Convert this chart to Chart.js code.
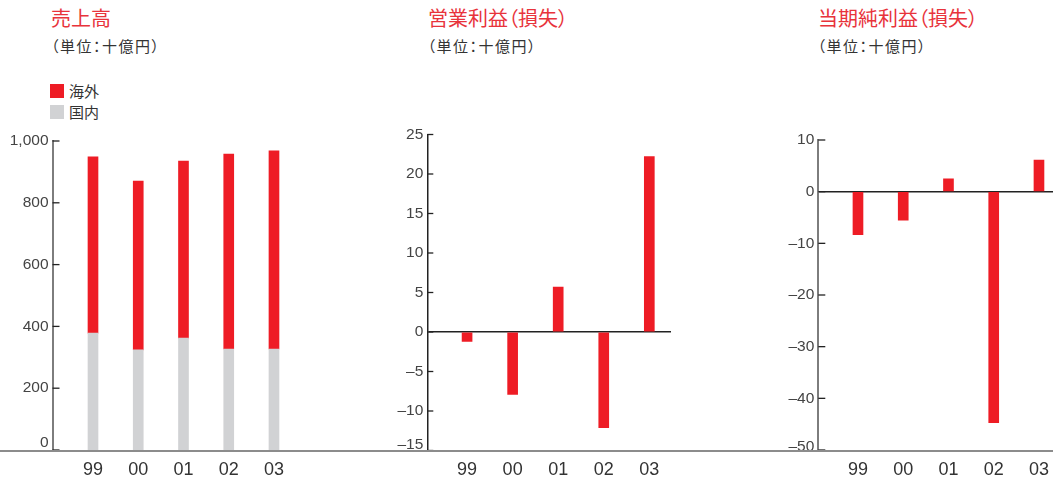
<!DOCTYPE html>
<html><head><meta charset="utf-8">
<script src="https://cdn.jsdelivr.net/npm/chart.js@4"></script>
<style>
html,body{margin:0;padding:0;background:#fff;overflow:hidden;width:1053px;height:477px;}
.t{position:absolute;font-family:"Noto Sans CJK JP";color:#e8333b;font-size:20px;line-height:1;font-feature-settings:"palt";white-space:nowrap;}
.s{position:absolute;font-family:"Noto Sans CJK JP";color:#333;font-size:15px;line-height:1;letter-spacing:1.5px;font-feature-settings:"palt";white-space:nowrap;}
canvas{position:absolute;}
#legend{position:absolute;left:50px;top:84px;font-family:"Noto Sans CJK JP";font-size:15px;color:#333;}
#legend div{height:14px;line-height:14px;margin-bottom:7px;white-space:nowrap;}
#legend i{display:inline-block;width:14px;height:14px;vertical-align:top;margin-right:5px;}
.base{position:absolute;left:0;top:450px;width:1053px;height:2px;background:#8c8c8c;}
</style></head><body>
<div class="t" style="left:51px;top:8px;">売上高</div>
<div class="s" style="left:51px;top:38px;">（単位：十億円）</div>
<div id="legend"></div>
<div class="t" style="left:428px;top:8px;">営業利益（損失）</div>
<div class="s" style="left:427.5px;top:38px;">（単位：十億円）</div>
<div class="t" style="left:818px;top:8px;">当期純利益（損失）</div>
<div class="s" style="left:817.5px;top:38px;">（単位：十億円）</div>
<canvas id="c1" width="350" height="367" style="left:0;top:110px;"></canvas>
<canvas id="c2" width="300" height="367" style="left:380px;top:110px;"></canvas>
<canvas id="c3" width="283" height="367" style="left:770px;top:110px;"></canvas>
<div class="base"></div>
<script>
const categories = ['99','00','01','02','03'];
const salesDomestic = [378, 324, 362, 327, 327];
const salesOverseas = [571, 546, 573, 631, 641];
const operatingIncome = [-1.2, -7.9, 5.7, -12.1, 22.2];
const netIncome = [-8.3, -5.5, 2.5, -44.7, 6.1];
const salesTicks = [0, 200, 400, 600, 800, 1000];
const operatingTicks = [-15, -10, -5, 0, 5, 10, 15, 20, 25];
const netTicks = [-50, -40, -30, -20, -10, 0, 10];
const legendNames = ['海外', '国内'];

const RED = '#ee1c25', GRAY = '#d1d2d4';

const lg = document.getElementById('legend');
[[legendNames[0], RED], [legendNames[1], GRAY]].forEach(([n, c]) => {
  const d = document.createElement('div');
  d.innerHTML = '<i style="background:' + c + '"></i>' + n;
  lg.appendChild(d);
});

const innerTicks = {
  id: 'innerTicks',
  beforeDraw(chart, args, opts) {
    // lift the lowest y label above the baseline, as in the original
    const y = chart.scales.y;
    const items = y.getLabelItems();
    if (items.length && !items[0]._lifted) {
      items[0].options.translation[1] -= opts.lift;
      items[0]._lifted = true;
    }
  },
  afterDraw(chart, args, opts) {
    const y = chart.scales.y, ctx = chart.ctx, left = chart.chartArea.left;
    ctx.save();
    ctx.strokeStyle = opts.color; ctx.lineWidth = opts.width;
    y.ticks.forEach(t => {
      const py = y.getPixelForValue(t.value);
      ctx.beginPath(); ctx.moveTo(left, py); ctx.lineTo(left + opts.length, py); ctx.stroke();
    });
    ctx.restore();
  }
};

const toData = arr => arr.map((v, i) => ({x: i, y: v}));
const fmt = v => v.toLocaleString('en-US').replace('-', '–');

function makeChart(id, datasets, yTicks, L) {
  return new Chart(document.getElementById(id), {
    type: 'bar',
    data: {datasets},
    plugins: [innerTicks],
    options: {
      responsive: false, animation: false, devicePixelRatio: 1,
      layout: {padding: {top: L.padTop, right: L.padRight, left: 0, bottom: 0}},
      plugins: {legend: {display: false}, tooltip: {enabled: false},
        innerTicks: {color: '#222', width: 1.3, length: L.tickLen, lift: L.lift}},
      datasets: {bar: {barThickness: 10}},
      scales: {
        x: {
          type: 'linear', min: L.xMin, max: L.xMax, stacked: true, offset: false,
          grid: {display: false, offset: false}, border: {display: false},
          afterBuildTicks: s => { s.ticks = categories.map((c, i) => ({value: i})); },
          afterFit: s => { s.height = L.xHeight; },
          ticks: {callback: v => categories[v], color: '#333', font: {family: 'Liberation Sans', size: 18},
            padding: 1, maxRotation: 0, autoSkip: false}
        },
        y: {
          min: yTicks[0], max: yTicks[yTicks.length - 1], stacked: true,
          afterBuildTicks: s => { s.ticks = yTicks.map(v => ({value: v})); },
          afterFit: s => { s.width = L.yWidth; },
          grid: {display: L.zeroLine, drawTicks: false, lineWidth: 1.5,
            color: c => (c.tick && c.tick.value === 0) ? '#222' : 'rgba(0,0,0,0)'},
          border: {display: true, color: L.axisColor, width: L.axisWidth},
          ticks: {callback: v => fmt(v), color: '#444', font: {family: 'Liberation Sans', size: 15.5}, padding: 4}
        }
      }
    }
  });
}

makeChart('c1', [
  {label: legendNames[1], data: toData(salesDomestic), backgroundColor: GRAY},
  {label: legendNames[0], data: toData(salesOverseas), backgroundColor: RED}
], salesTicks, {padTop: 31, padRight: 0, yWidth: 52.5, xHeight: 27, xMin: -0.895, xMax: 5.68,
  axisColor: '#7d7d7d', axisWidth: 2, zeroLine: false, tickLen: 7, lift: 7});

makeChart('c2', [
  {label: '営業利益', data: toData(operatingIncome), backgroundColor: RED}
], operatingTicks, {padTop: 24.5, padRight: 9, yWidth: 47.3, xHeight: 26.5, xMin: -0.873, xMax: 4.476,
  axisColor: '#222', axisWidth: 1.5, zeroLine: true, tickLen: 6, lift: 6});

makeChart('c3', [
  {label: '当期純利益', data: toData(netIncome), backgroundColor: RED}
], netTicks, {padTop: 30, padRight: 0, yWidth: 48.3, xHeight: 27, xMin: -0.877, xMax: 4.31,
  axisColor: '#7d7d7d', axisWidth: 2, zeroLine: true, tickLen: 7, lift: 3});
</script>
</body></html>
